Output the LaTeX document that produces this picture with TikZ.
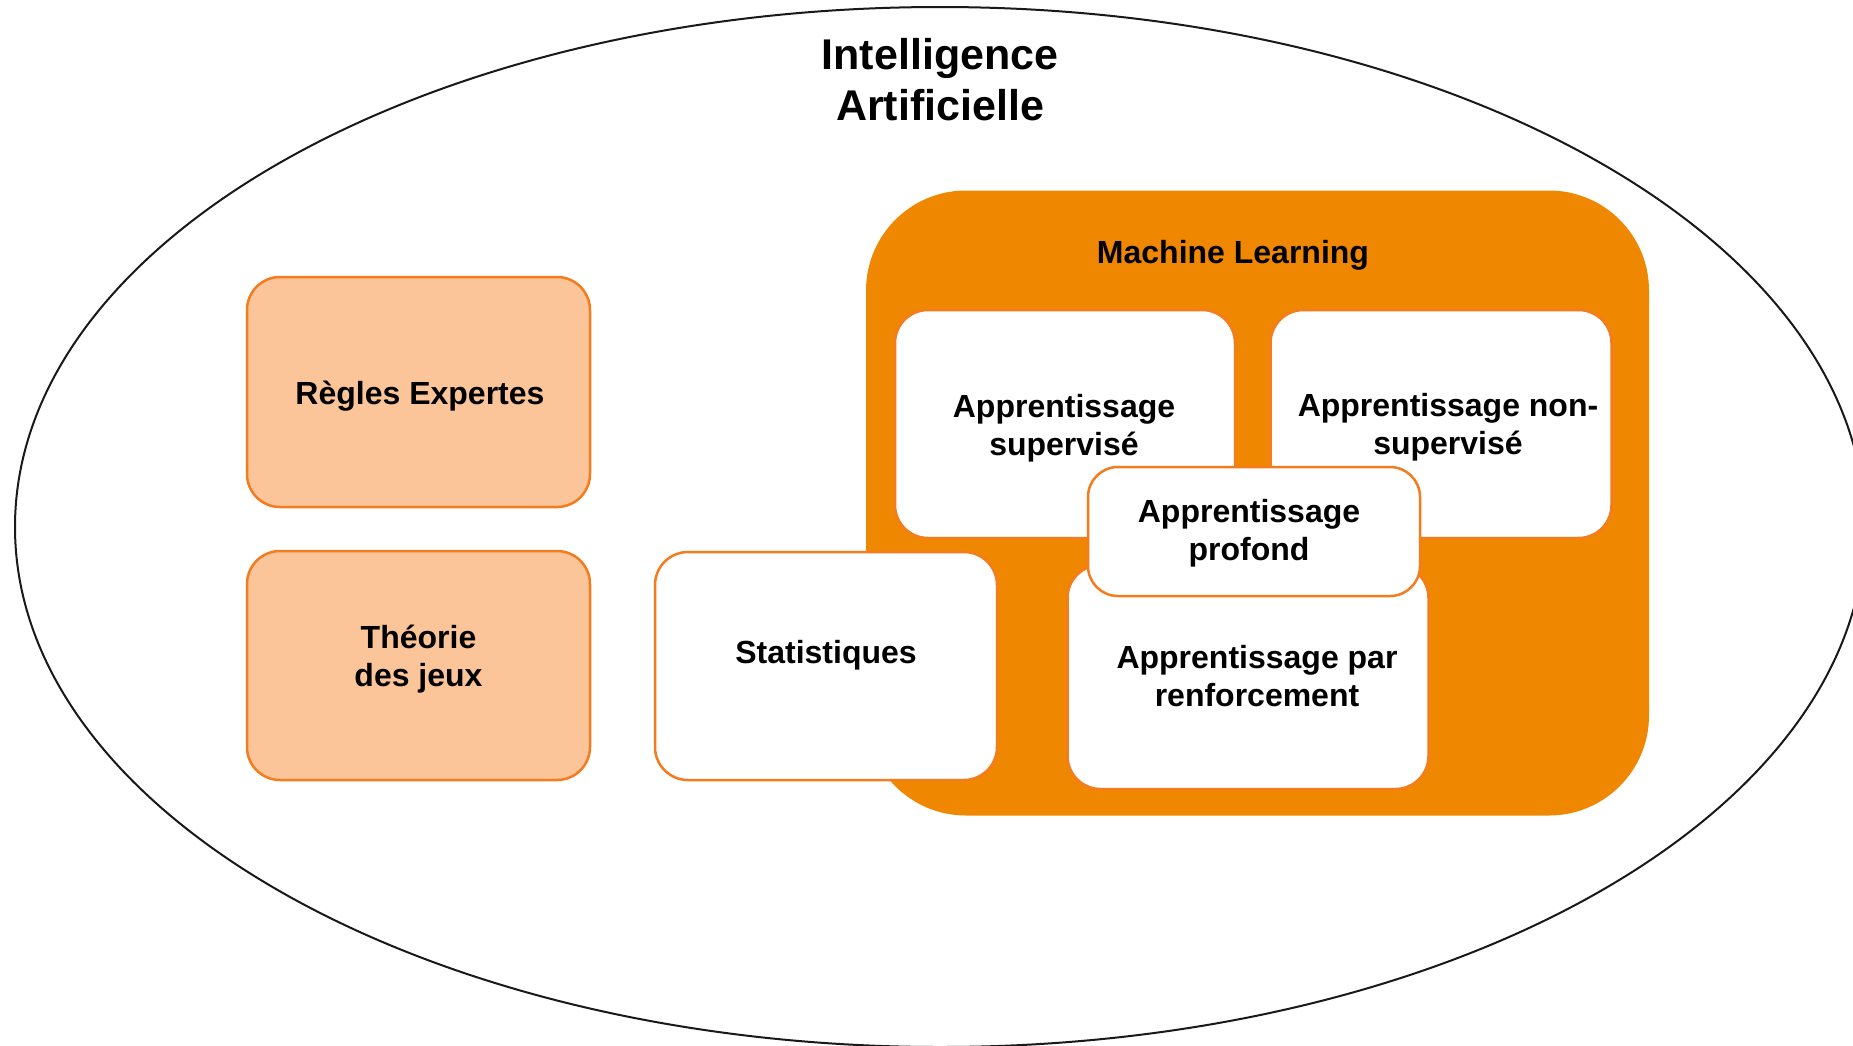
\documentclass[tikz,border=0pt]{standalone}
\usepackage{fontspec}
\setmainfont{Liberation Sans}
\definecolor{mlorange}{HTML}{EF8700}
\definecolor{boxline}{HTML}{F47C1E}
\definecolor{peach}{HTML}{FBC599}
\tikzset{
  whitebox/.style={draw=boxline, line width=2.5pt, fill=white, rounded corners=33pt, inner sep=0pt},
  peachbox/.style={draw=boxline, line width=2.5pt, fill=peach, rounded corners=33pt, inner sep=0pt},
  lbl/.style={align=center, inner sep=0pt, font=\fontsize{32}{38}\selectfont\bfseries},
}
\begin{document}
\begin{tikzpicture}[x=1pt,y=-1pt]
\useasboundingbox (0,0) rectangle (1853,1045);
\clip (0,0) rectangle (1853,1045);
% outer ellipse
\draw[line width=2pt, black!90] (940,527) ellipse [x radius=925pt, y radius=520pt];
\node[align=center, inner sep=0pt, font=\fontsize{43}{51}\selectfont\bfseries] (ia) at (940,85) {\strut Intelligence\\\strut Artificielle};
% machine learning
\node[fill=mlorange, rounded corners=100pt, minimum width=783pt, minimum height=625pt, inner sep=0pt] (ml) at (1257.5,503) {};
\node[lbl] (mlt) at (1233,256) {\strut Machine Learning};
% sub boxes
\node[whitebox, minimum width=340pt, minimum height=228pt] (sup) at (1065,424) {};
\node[whitebox, minimum width=341pt, minimum height=228pt] (nsup) at (1441,424) {};
\node[whitebox, minimum width=361pt, minimum height=224pt] (renf) at (1248,677) {};
\node[whitebox, rounded corners=30pt, minimum width=332pt, minimum height=129pt] (prof) at (1254,531.5) {};
\node[whitebox, minimum width=342pt, minimum height=228pt] (stat) at (826,666) {};
% left boxes
\node[peachbox, minimum width=343pt, minimum height=230pt] (regles) at (418.5,392) {};
\node[peachbox, minimum width=343pt, minimum height=229pt] (theo) at (418.5,665.5) {};
% labels
\node[lbl] (supt) at (1064,429) {\strut Apprentissage\\\strut supervisé};
\node[lbl] (nsupt) at (1448,428) {\strut Apprentissage non-\\\strut supervisé};
\node[lbl] (proft) at (1249,534) {\strut Apprentissage\\\strut profond};
\node[lbl] (renft) at (1257,680) {\strut Apprentissage par\\\strut renforcement};
\node[lbl] (statt) at (826,656) {\strut Statistiques};
\node[lbl] (reglest) at (420,397) {\strut Règles Expertes};
\node[lbl] (theot) at (418.5,660) {\strut Théorie\\\strut des jeux};
\end{tikzpicture}
\end{document}
